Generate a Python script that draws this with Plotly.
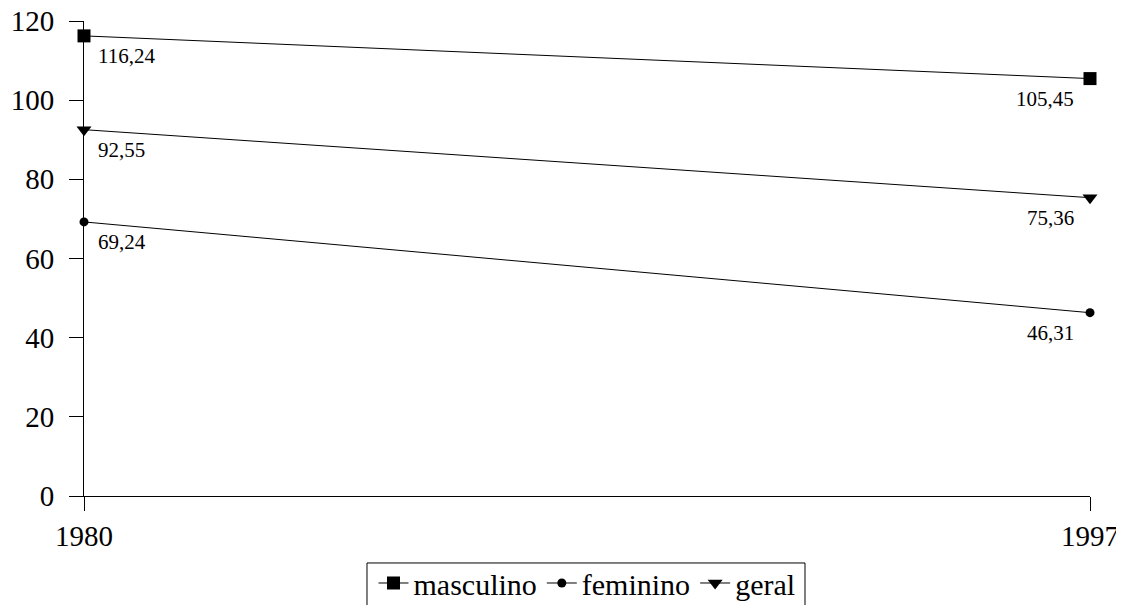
import plotly.graph_objects as go

years = [1980, 1997]
series_names = ["masculino", "feminino", "geral"]
masculino = [116.24, 105.45]
feminino = [69.24, 46.31]
geral = [92.55, 75.36]
y_ticks = [0, 20, 40, 60, 80, 100, 120]

values = {"masculino": masculino, "feminino": feminino, "geral": geral}
symbols = {"masculino": "square", "feminino": "circle", "geral": "triangle-down"}
sizes = {"masculino": 13, "feminino": 9, "geral": 13}

FONT = "Liberation Serif"

fig = go.Figure()
for name in series_names:
    fig.add_trace(go.Scatter(
        x=years, y=values[name], name=name, mode="lines+markers",
        line=dict(color="black", width=1),
        marker=dict(symbol=symbols[name], size=sizes[name], color="black"),
        cliponaxis=False,
    ))
    for i, (xv, yv) in enumerate(zip(years, values[name])):
        lbl = f"{yv:.2f}".replace(".", ",")
        fig.add_annotation(
            x=xv, y=yv, text=lbl, showarrow=False,
            xanchor="left" if i == 0 else "right",
            yanchor="top",
            xshift=12 if i == 0 else -14,
            yshift=-6,
            font=dict(family=FONT, size=21, color="black"),
        )

# legend frame (drawn as a shape so the text can sit higher inside it)
fig.add_shape(
    type="rect", xref="paper", yref="paper",
    x0=0.2813, x1=0.7167, y0=-0.141, y1=-0.32,
    line=dict(color="black", width=1), fillcolor="rgba(0,0,0,0)",
)

fig.update_layout(
    width=1124, height=640,
    margin=dict(l=76, r=42, t=13, b=152),
    plot_bgcolor="white", paper_bgcolor="white",
    font=dict(family=FONT, size=29, color="black"),
    showlegend=True,
    legend=dict(
        orientation="h", x=0.5, xanchor="center", y=-0.1284, yanchor="top",
        borderwidth=0, bgcolor="rgba(0,0,0,0)", font=dict(family=FONT, size=30),
        itemwidth=30, tracegroupgap=0,
    ),
    xaxis=dict(
        range=[1980, 1997], tickvals=years, ticktext=[str(y) for y in years],
        showgrid=False, zeroline=False, showline=True, linecolor="black", linewidth=1,
        ticks="outside", ticklen=14, tickcolor="black", automargin=False,
        ticklabeloverflow="allow",
        tickfont=dict(family=FONT, size=29),
    ),
    yaxis=dict(
        range=[0, 120], tickvals=y_ticks,
        showgrid=False, zeroline=False, showline=True, linecolor="black", linewidth=1,
        ticks="outside", ticklen=14, tickcolor="black", automargin=False,
        ticklabeloverflow="allow", ticklabelstandoff=9,
        tickfont=dict(family=FONT, size=29),
    ),
)

fig.write_html("out.html")
